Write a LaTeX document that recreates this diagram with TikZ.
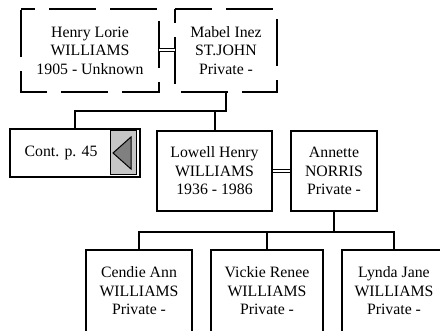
\documentclass[tikz,border=0pt]{standalone}
\usepackage{fontspec}
\setmainfont{Liberation Serif}
\usetikzlibrary{calc}

\begin{document}
\begin{tikzpicture}[
    x=1pt, y=-1pt,
    person/.style={draw, line width=2pt, align=center, inner sep=0pt,
        font=\fontsize{15.8}{18.5}\selectfont},
    ghost/.style={person, draw=none},
    dashbox/.style={line width=1.8pt, dash pattern=on 47pt off 14pt},
    line/.style={line width=2pt},
    marriage/.style={double, double distance=2pt, line width=1pt}
]
    \clip (0,0) rectangle (440,331);

    % 上一代（虚线框）
    \node[ghost, minimum width=136pt, minimum height=81pt] (henry) at (90,50.5)
        {Henry Lorie\\WILLIAMS\\1905 - Unknown};
    \node[ghost, minimum width=100pt, minimum height=81pt] (mabel) at (226,50.5)
        {Mabel Inez\\ST.JOHN\\Private -};
    \draw[dashbox, dash phase=33pt] (henry.north west) -- (henry.north east)
        -- (henry.south east) -- (henry.south west) -- cycle;
    \draw[dashbox, dash phase=10pt] (mabel.north west) -- (mabel.north east)
        -- (mabel.south east) -- (mabel.south west) -- cycle;
    \draw[marriage] (henry) -- (mabel);

    % 续页按钮
    \node[ghost, minimum width=128pt, minimum height=46pt] (cont) at (75,153) {};
    \node[font=\fontsize{15.8}{18.5}\selectfont] (contlabel) at (61,153) {Cont. p. 45};
    \draw[line width=1pt, fill=gray!45] (110,131) rectangle (136,175);
    \draw[line width=1pt, fill=gray] (113,153) -- (131,137) -- (131,169) -- cycle;
    \draw[line width=1.8pt] (cont.north west) rectangle (cont.south east);

    % 第二代
    \node[person, minimum width=115pt, minimum height=80pt] (lowell) at (214.5,171)
        {Lowell Henry\\WILLIAMS\\1936 - 1986};
    \node[person, minimum width=86pt, minimum height=80pt] (annette) at (334,171)
        {Annette\\NORRIS\\Private -};
    \draw[marriage] (lowell) -- (annette);

    % 子女
    \node[person, minimum width=106pt, minimum height=82pt] (cendie) at (139,291)
        {Cendie Ann\\WILLIAMS\\Private -};
    \node[person, minimum width=112pt, minimum height=82pt] (vickie) at (267,291)
        {Vickie Renee\\WILLIAMS\\Private -};
    \node[person, minimum width=104pt, minimum height=82pt] (lynda) at (394,291)
        {Lynda Jane\\WILLIAMS\\Private -};

    % 连线
    \draw[line] (mabel.south) -- ++(0,19) coordinate (fork1) -| (cont.north);
    \draw[line] (fork1) -| (lowell.north);
    \draw[line] (annette.south) -- ++(0,20) coordinate (fork2) -| (cendie.north);
    \draw[line] (fork2) -| (vickie.north);
    \draw[line] (fork2) -| (lynda.north);
\end{tikzpicture}
\end{document}
